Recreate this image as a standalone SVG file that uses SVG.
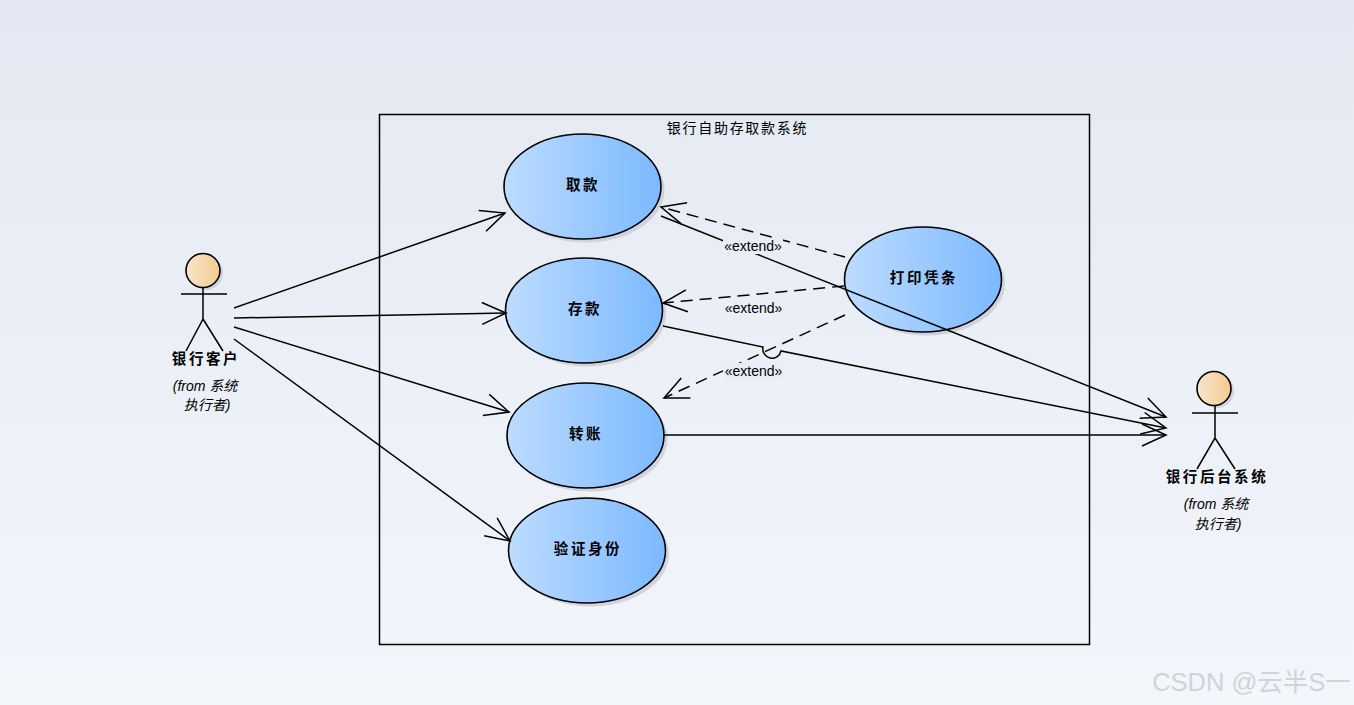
<svg xmlns="http://www.w3.org/2000/svg" width="1354" height="705" viewBox="0 0 1354 705">
<style>
text{font-family:"Liberation Sans","Noto Sans CJK SC",sans-serif;fill:#000}
.uc{font-family:"Noto Sans CJK SC",sans-serif;font-weight:700;font-size:14.5px;letter-spacing:2.6px;text-anchor:middle}
.fr{font-family:"Liberation Sans","Noto Sans CJK SC",sans-serif;font-style:italic;font-size:14px;text-anchor:middle}
.ex{font-size:14px;text-anchor:middle}
.el{fill:url(#blue);stroke:#000;stroke-width:1.6}
.hd{fill:url(#skin);stroke:#000;stroke-width:1.6}
.st{stroke:#000;stroke-width:1.5;fill:none}
.sh{fill:#c4c8d0;opacity:.7}
.cn{stroke:#000;stroke-width:1.5;fill:none}
.ar{marker-end:url(#open)}
.da{stroke-dasharray:12 7}
.lb{fill:#e9edf6}
</style>
<defs>
<linearGradient id="bg" x1="0" y1="0" x2="0" y2="1"><stop offset="0" stop-color="#e3e8f2"/><stop offset="1" stop-color="#f3f6fb"/></linearGradient>
<linearGradient id="blue" x1="0" y1="0" x2="1" y2="0"><stop offset="0" stop-color="#bcdcff"/><stop offset="1" stop-color="#7cb9ff"/></linearGradient>
<linearGradient id="skin" x1="0" y1="0" x2="1" y2="0"><stop offset="0" stop-color="#f7e5cb"/><stop offset="1" stop-color="#f3cb90"/></linearGradient>
<marker id="open" markerUnits="userSpaceOnUse" markerWidth="60" markerHeight="60" refX="30" refY="30" orient="auto" overflow="visible"><path d="M6 19 L30 30 L6 41" fill="none" stroke="#000" stroke-width="1.5"/></marker>
</defs>
<rect width="1354" height="705" fill="url(#bg)"/>
<g id="system"><rect x="379.500" y="114.500" width="710" height="530" fill="none" stroke="#000" stroke-width="1.500"/><text x="737.500" y="133" font-size="14" text-anchor="middle" style="font-family:'Noto Sans CJK SC',sans-serif;letter-spacing:1.700px">银行自助存取款系统</text></g>
<g id="actor-customer">
<circle class="sh" cx="206" cy="273" r="17"/><circle class="hd" cx="203" cy="270.500" r="17"/>
<path class="st" d="M181 294 H227 M203 287 V319 L186 351 M203 319 L223 351"/>
<text class="uc" x="206" y="363.500">银行客户</text>
<text class="fr" x="205" y="391">(from 系统</text><text class="fr" x="207" y="410">执行者)</text>
</g>
<g id="uc-withdraw"><ellipse class="sh" cx="586" cy="190" rx="78.500" ry="52.500"/><ellipse class="el" cx="582.500" cy="186.500" rx="78.500" ry="52.500"/><text class="uc" x="583" y="189.500">取款</text></g>
<g id="uc-deposit"><ellipse class="sh" cx="587.500" cy="314" rx="78.500" ry="52.500"/><ellipse class="el" cx="584" cy="310.500" rx="78.500" ry="52.500"/><text class="uc" x="585" y="313.500">存款</text></g>
<g id="uc-transfer"><ellipse class="sh" cx="589" cy="439" rx="78.500" ry="52.500"/><ellipse class="el" cx="585.500" cy="435.500" rx="78.500" ry="52.500"/><text class="uc" x="586" y="438.500">转账</text></g>
<g id="uc-verify"><ellipse class="sh" cx="590.500" cy="554" rx="78.500" ry="52.500"/><ellipse class="el" cx="587" cy="550.500" rx="78.500" ry="52.500"/><text class="uc" x="588" y="553.500">验证身份</text></g>
<g id="uc-print"><ellipse class="sh" cx="926.500" cy="283" rx="78.500" ry="52.500"/><ellipse class="el" cx="923" cy="279.500" rx="78.500" ry="52.500"/><text class="uc" x="924" y="282.500">打印凭条</text></g>
<g id="actor-backend">
<circle class="sh" cx="1217" cy="391" r="17"/><circle class="hd" cx="1214" cy="388.500" r="17"/>
<path class="st" d="M1192 413 H1238 M1215 405 V438 L1197 469 M1215 438 L1235 469"/>
<text class="uc" x="1217" y="482">银行后台系统</text>
<text class="fr" x="1216" y="509">(from 系统</text><text class="fr" x="1218" y="529">执行者)</text>
</g>
<g id="connectors">
<path class="cn ar" d="M234 308 L505 213"/>
<path class="cn ar" d="M234 318 L506 313"/>
<path class="cn ar" d="M234 327 L509 412"/>
<path class="cn ar" d="M234 339 L510 541"/>
<path class="cn ar" d="M661 216 L1166 417"/>
<path class="cn ar" d="M663 326 L763 347 A9 9 0 0 0 781 351 L1166 428"/>
<path class="cn ar" d="M664 435 L1166 435"/>
<path class="cn da ar" d="M845 257 L661 207"/>
<path class="cn da ar" d="M844 286 L663 303"/>
<path class="cn da ar" d="M845 315 L664 398"/>
</g>
<g id="labels">
<rect class="lb" x="723" y="238" width="60" height="16"/><text class="ex" x="753" y="251">«extend»</text>
<text class="ex" x="753.500" y="313">«extend»</text>
<rect class="lb" x="723" y="363" width="60" height="16"/><text class="ex" x="753.500" y="376">«extend»</text>
</g>
<text x="1251.500" y="691" font-size="25.500" text-anchor="middle" style="fill:#d0d3d8">CSDN @云半S一</text>
</svg>
